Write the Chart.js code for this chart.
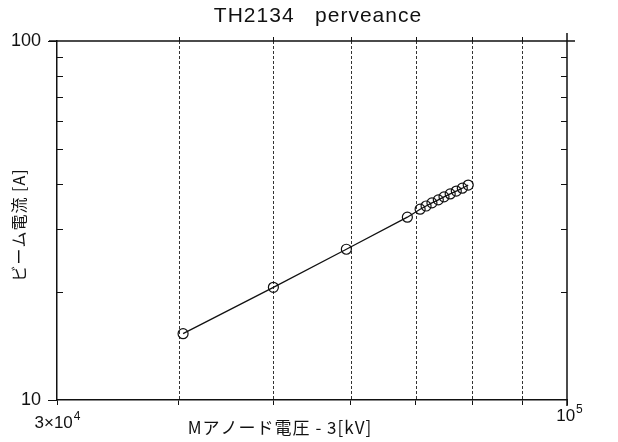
<!DOCTYPE html>
<html>
<head>
<meta charset="utf-8">
<script src="https://cdn.jsdelivr.net/npm/chart.js@4/dist/chart.umd.min.js"></script>
<style>
  html, body { margin: 0; padding: 0; background: #fff; }
  canvas { display: block; }
</style>
</head>
<body>
<canvas id="perveanceChart" width="618" height="442"></canvas>
<script>
// measured points (M-anode voltage [V], beam current [A])
const voltage = [40400, 50000, 59400, 68600, 70700, 71700, 72700, 73800, 74800, 75900, 77000, 78100, 79200];
const current = [15.3, 20.6, 26.3, 32.3, 34.0, 34.7, 35.4, 36.1, 36.8, 37.5, 38.2, 38.9, 39.7];

const xTicks = [30000, 40000, 50000, 60000, 70000, 80000, 90000, 100000];
const yTicks = [10, 20, 30, 40, 50, 60, 70, 80, 90, 100];
// base text + exponent for the two labelled x ticks
const xTickLabels = { 30000: ["3×10", "4"], 100000: ["10", "5"] };
const yTickLabels = { 10: "10", 100: "100" };

const titleText = "TH2134   perveance";
const xTitle = "Mアノード電圧 - 3[kV]";
const yTitle = "ビーム電流 [A]";

const ink = "#111";

// frame, dashed grid, inner ticks and texts
const framePlugin = {
  id: "frame",
  beforeDatasetsDraw(chart) {
    const { ctx, chartArea: a, scales } = chart;
    ctx.save();
    ctx.strokeStyle = "#333";
    ctx.lineWidth = 1;
    ctx.setLineDash([3, 2]);
    xTicks.slice(1, -1).forEach((v) => {
      const x = Math.round(scales.x.getPixelForValue(v)) + 0.5;
      ctx.beginPath();
      ctx.moveTo(x, a.top);
      ctx.lineTo(x, a.bottom);
      ctx.stroke();
    });
    ctx.restore();
  },
  afterDraw(chart) {
    const { ctx, chartArea: a, scales } = chart;
    ctx.save();
    ctx.strokeStyle = ink;
    ctx.lineWidth = 1.5;
    // top and right border, a little past the corners
    ctx.beginPath();
    ctx.moveTo(a.left - 8, a.top);
    ctx.lineTo(a.right + 8, a.top);
    ctx.moveTo(a.right, a.top - 8);
    ctx.lineTo(a.right, a.bottom + 6);
    ctx.stroke();

    // small marks above the top border
    ctx.lineWidth = 1;
    xTicks.slice(1, -1).forEach((v) => {
      const x = Math.round(scales.x.getPixelForValue(v)) + 0.5;
      ctx.beginPath();
      ctx.moveTo(x, a.top - 4);
      ctx.lineTo(x, a.top);
      ctx.stroke();
    });

    // inward minor ticks on both sides
    yTicks.slice(1, -1).forEach((v) => {
      const y = Math.round(scales.y.getPixelForValue(v)) + 0.5;
      ctx.beginPath();
      ctx.moveTo(a.left, y);
      ctx.lineTo(a.left + 6, y);
      ctx.moveTo(a.right, y);
      ctx.lineTo(a.right - 6, y);
      ctx.stroke();
    });

    ctx.fillStyle = ink;

    // x tick labels with raised exponent
    ctx.textBaseline = "alphabetic";
    ctx.textAlign = "left";
    Object.keys(xTickLabels).forEach((k) => {
      const [base, exp] = xTickLabels[k];
      const x = scales.x.getPixelForValue(Number(k));
      const baseY = Number(k) === 100000 ? 421 : 428;
      ctx.font = '17px "Liberation Sans", Arial, sans-serif';
      const wb = ctx.measureText(base).width;
      ctx.font = '12px "Liberation Sans", Arial, sans-serif';
      const we = ctx.measureText(exp).width;
      const x0 = x - (wb + we) / 2 + (Number(k) === 100000 ? 2 : 0);
      ctx.font = '17px "Liberation Sans", Arial, sans-serif';
      ctx.fillText(base, x0, baseY);
      ctx.font = '12px "Liberation Sans", Arial, sans-serif';
      ctx.fillText(exp, x0 + wb + 1, baseY - 8);
    });

    ctx.letterSpacing = "1px";
    ctx.font = '21px "Liberation Sans", Arial, sans-serif';
    ctx.textAlign = "center";
    ctx.fillText(titleText, 318, 22);

    ctx.font = '17px "Noto Sans CJK JP", sans-serif';
    ctx.textBaseline = "middle";
    ctx.fillText(xTitle, 280, 428);

    ctx.translate(19, 225);
    ctx.rotate(-Math.PI / 2);
    ctx.font = '16px "Noto Sans CJK JP", sans-serif';
    ctx.fillText(yTitle, 0, 0);
    ctx.restore();
  }
};

new Chart(document.getElementById("perveanceChart"), {
  type: "scatter",
  data: {
    datasets: [{
      data: voltage.map((v, i) => ({ x: v, y: current[i] })),
      showLine: true,
      borderColor: ink,
      borderWidth: 1.3,
      pointRadius: 5,
      pointBorderWidth: 1.2,
      pointBorderColor: ink,
      pointBackgroundColor: "rgba(255,255,255,0)"
    }]
  },
  options: {
    responsive: false,
    animation: false,
    devicePixelRatio: 1,
    layout: { padding: { left: 0, top: 41, right: 51, bottom: 0 } },
    plugins: { legend: { display: false }, tooltip: { enabled: false }, title: { display: false } },
    scales: {
      x: {
        type: "logarithmic",
        min: 30000,
        max: 100000,
        afterBuildTicks: (scale) => { scale.ticks = xTicks.map((v) => ({ value: v })); },
        afterFit: (scale) => { scale.height = 42; },
        grid: { drawOnChartArea: false, drawTicks: true, tickLength: 5, tickColor: ink },
        border: { display: true, color: ink, width: 1.5 },
        ticks: { display: false, autoSkip: false }
      },
      y: {
        type: "logarithmic",
        min: 10,
        max: 100,
        afterBuildTicks: (scale) => { scale.ticks = yTicks.map((v) => ({ value: v })); },
        afterFit: (scale) => { scale.width = 57; },
        grid: {
          drawOnChartArea: false,
          drawTicks: true,
          tickLength: 9,
          tickColor: (c) => (yTickLabels[c.tick && c.tick.value] ? ink : "rgba(0,0,0,0)")
        },
        border: { display: true, color: ink, width: 1.5 },
        ticks: {
          autoSkip: false,
          padding: 7,
          color: ink,
          font: { family: '"Liberation Sans", Arial, sans-serif', size: 18 },
          callback: (v) => yTickLabels[v] || ""
        }
      }
    }
  },
  plugins: [framePlugin]
});
</script>
</body>
</html>
